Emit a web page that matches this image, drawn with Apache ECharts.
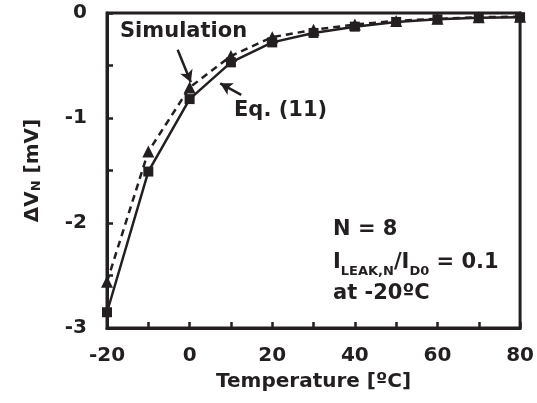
<!DOCTYPE html>
<html>
<head>
<meta charset="utf-8">
<script src="https://cdn.jsdelivr.net/npm/echarts@6/dist/echarts.min.js"></script>
<style>
  html, body { margin: 0; padding: 0; background: #fff; }
  #chart { width: 537px; height: 403px; }
</style>
</head>
<body>
<div id="chart"></div>
<script>
const temps = [-20, -10, 0, 10, 20, 30, 40, 50, 60, 70, 80]
const simulation = [-2.56, -1.32, -0.71, -0.41, -0.23, -0.16, -0.11, -0.075, -0.055, -0.04, -0.035]
const eq11 = [-2.85, -1.51, -0.82, -0.47, -0.28, -0.19, -0.13, -0.085, -0.06, -0.045, -0.04]
// annotation arrows, in data units: [from, to]
const simArrow = [[-2.9, -0.35], [0.3, -0.66]]
const eqArrow = [[12.5, -0.78], [7.4, -0.67]]

const font = 'DejaVu Sans'
const ink = '#231f20'

const chart = echarts.init(document.getElementById('chart'))

const arrow = (pts) => ({
  silent: true,
  symbol: ['none', 'arrow'],
  symbolSize: [10, 12],
  label: { show: false },
  lineStyle: { color: ink, width: 2.5, type: 'solid' },
  data: [[{ coord: pts[0] }, { coord: pts[1] }]],
})

const option = {
  animation: false,
  backgroundColor: '#fff',
  grid: {
    left: 107, right: 14, top: 13, bottom: 75,
    show: true, borderColor: ink, borderWidth: 3, backgroundColor: 'transparent',
  },
  xAxis: {
    type: 'value', min: -20, max: 80, interval: 10,
    name: 'Temperature [ºC]', nameLocation: 'middle', nameGap: 44,
    nameTextStyle: { fontFamily: font, fontWeight: 'bold', fontSize: 20, color: ink },
    axisLine: { show: true, onZero: false, lineStyle: { color: ink, width: 3 } },
    axisTick: { show: true, inside: true, length: 6, lineStyle: { color: ink, width: 2.5 } },
    axisLabel: {
      margin: 18, fontFamily: font, fontWeight: 'bold', fontSize: 20, color: ink,
      formatter: (v) => (v % 20 === 0 ? String(v) : ''),
    },
    splitLine: { show: false },
  },
  yAxis: {
    type: 'value', min: -3, max: 0, interval: 0.5,
    name: '{m|ΔV}{s|N}{m| [mV]}', nameLocation: 'middle', nameGap: 64, nameRotate: 90,
    nameTextStyle: {
      rich: {
        m: { fontFamily: font, fontWeight: 'bold', fontSize: 20, color: ink },
        s: { fontFamily: font, fontWeight: 'bold', fontSize: 13, color: ink, verticalAlign: 'bottom', padding: [8, 0, 0, 0] },
      },
    },
    axisLine: { show: true, onZero: false, lineStyle: { color: ink, width: 3 } },
    axisTick: { show: true, inside: true, length: 6, lineStyle: { color: ink, width: 2.5 } },
    axisLabel: {
      margin: 20, fontFamily: font, fontWeight: 'bold', fontSize: 20, color: ink,
      formatter: (v) => (Number.isInteger(v) ? String(v) : ''),
    },
    splitLine: { show: false },
  },
  series: [
    {
      name: 'Simulation',
      type: 'line',
      data: temps.map((t, i) => [t, simulation[i]]),
      symbol: 'triangle', symbolSize: 12,
      itemStyle: { color: ink },
      lineStyle: { color: ink, width: 2.5, type: [7, 5] },
      markLine: arrow(simArrow),
      z: 3,
    },
    {
      name: 'Eq. (11)',
      type: 'line',
      data: temps.map((t, i) => [t, eq11[i]]),
      symbol: 'rect', symbolSize: 10,
      itemStyle: { color: ink },
      lineStyle: { color: ink, width: 2.5 },
      markLine: arrow(eqArrow),
      z: 4,
    },
  ],
  graphic: [
    { type: 'text', left: 120, top: 21, style: { text: 'Simulation', font: 'bold 21px "DejaVu Sans"', fill: ink } },
    { type: 'text', left: 234, top: 100, style: { text: 'Eq. (11)', font: 'bold 21px "DejaVu Sans"', fill: ink } },
    { type: 'text', left: 333, top: 219, style: { text: 'N = 8', font: 'bold 21px "DejaVu Sans"', fill: ink } },
    {
      type: 'text', left: 333, top: 252,
      style: {
        text: '{b|I}{s|LEAK,N}{b|/I}{s|D0}{b| = 0.1}',
        rich: {
          b: { fontFamily: font, fontWeight: 'bold', fontSize: 21, fill: ink, verticalAlign: 'bottom' },
          s: { fontFamily: font, fontWeight: 'bold', fontSize: 13, fill: ink, verticalAlign: 'bottom', padding: [0, 0, -5, 0] },
        },
      },
    },
    { type: 'text', left: 333, top: 283, style: { text: 'at -20ºC', font: 'bold 21px "DejaVu Sans"', fill: ink } },
  ],
}

chart.setOption(option)
</script>
</body>
</html>
